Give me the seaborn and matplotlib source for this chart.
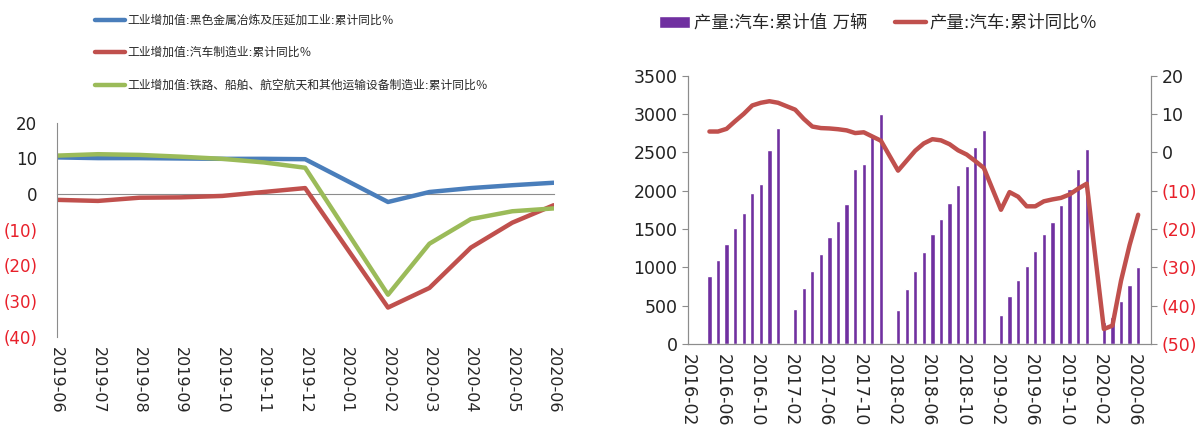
import numpy as np
import pandas as pd
import matplotlib
matplotlib.use("Agg")
import matplotlib.pyplot as plt
import seaborn as sns

# ---- left chart data (工业增加值 累计同比 %) ----
LEFT_MONTHS = ['2019-06', '2019-07', '2019-08', '2019-09', '2019-10', '2019-11',
               '2019-12', '2020-01', '2020-02', '2020-03', '2020-04', '2020-05', '2020-06']
# 2020-01 has no value (None)
steel = [10.3, 10.1, 10.1, 10.0, 9.9, 9.9, 9.8, None, -2.2, 0.6, 1.7, 2.5, 3.2]
auto_mfg = [-1.6, -1.9, -1.0, -0.9, -0.5, 0.6, 1.7, None, -31.8, -26.3, -15.0, -8.0, -3.1]
transport_eq = [10.8, 11.2, 11.0, 10.5, 9.9, 8.9, 7.4, None, -28.2, -13.9, -7.0, -4.8, -4.0]
LEFT_NAMES = ['工业增加值:黑色金属冶炼及压延加工业:累计同比％',
              '工业增加值:汽车制造业:累计同比％',
              '工业增加值:铁路、船舶、航空航天和其他运输设备制造业:累计同比％']

# ---- right chart data (汽车产量) ----
RIGHT_MONTHS = [f'{y}-{m:02d}' for y in range(2016, 2021) for m in range(1, 13)]
RIGHT_MONTHS = RIGHT_MONTHS[RIGHT_MONTHS.index('2016-02'):RIGHT_MONTHS.index('2020-07') + 1]
prod_months = (['2016-%02d' % m for m in range(4, 13)] +
               ['2017-%02d' % m for m in range(2, 13)] +
               ['2018-%02d' % m for m in range(2, 13)] +
               ['2019-%02d' % m for m in range(2, 13)] +
               ['2020-%02d' % m for m in range(2, 7)])
prod_cum = [889, 1094, 1308, 1508, 1709, 1966, 2088, 2524, 2816,
            458, 728, 955, 1173, 1391, 1604, 1822, 2280, 2345, 2707, 2995,
            445, 715, 955, 1199, 1428, 1628, 1833, 2073, 2315, 2574, 2792,
            372, 628, 835, 1011, 1210, 1428, 1589, 1809, 2020, 2278, 2544,
            285, 347, 556, 765, 998]
prod_yoy = [5.4, 5.4, 6.1, 8.1, 10.0, 12.2, 12.9, 13.3, 12.9,
            11.1, 8.7, 6.7, 6.3, 6.2, 6.0, 5.7, 5.0, 5.2, 4.1, 3.0,
            -4.8, -2.2, 0.4, 2.3, 3.4, 3.1, 2.1, 0.5, -0.6, -2.3, -4.1,
            -15.0, -10.4, -11.6, -14.1, -14.1, -12.8, -12.3, -11.9, -11.0, -9.5, -8.2,
            -46.1, -45.2, -33.5, -24.2, -16.3]
RIGHT_TICKS = RIGHT_MONTHS[::4][:14]

BLUE, RED, GREEN = '#4A7EBB', '#C0504D', '#9BBB59'
PURPLE = '#7030A0'
AXIS_GRAY = '#8C8C8C'
NEG_RED = '#E8202A'

sns.set_style('white')
plt.rcParams['font.family'] = ['DejaVu Sans', 'Noto Sans CJK SC']
plt.rcParams['axes.unicode_minus'] = False


def paren_label(v):
    return f'({abs(int(v))})' if v < 0 else f'{int(v)}'


fig = plt.figure(figsize=(11.99, 4.26), dpi=100)

# ================= left chart =================
ax1 = fig.add_axes([0.0472, 0.2094, 0.4146, 0.5023])
left_df = pd.DataFrame({'month': LEFT_MONTHS, 'pos': range(len(LEFT_MONTHS)),
                        LEFT_NAMES[0]: steel, LEFT_NAMES[1]: auto_mfg, LEFT_NAMES[2]: transport_eq})
for name, col in zip(LEFT_NAMES, [BLUE, RED, GREEN]):
    d = left_df.dropna(subset=[name])
    sns.lineplot(data=d, x='pos', y=name, ax=ax1, color=col, linewidth=3.2,
                 label=name, sort=False)

# x axis crosses at 0 (set before tick labels: this resets the ticks)
ax1.spines['bottom'].set_position(('data', 0))
ax1.spines['bottom'].set_color(AXIS_GRAY)
ax1.spines['bottom'].set_zorder(0)
ax1.set_xlim(0, len(LEFT_MONTHS) - 1)
ax1.set_ylim(-40, 20)
ax1.set_xticks(range(len(LEFT_MONTHS)))
ax1.set_xticklabels(LEFT_MONTHS, rotation=-90, fontsize=11.5)
lt = list(range(-40, 21, 10))
ax1.set_yticks(lt)
ax1.set_yticklabels([paren_label(v) for v in lt], fontsize=12)
for lab, v in zip(ax1.get_yticklabels(), lt):
    lab.set_color(NEG_RED if v < 0 else '#222222')
ax1.set_xlabel('')
ax1.set_ylabel('')
for s in ['top', 'right']:
    ax1.spines[s].set_visible(False)
ax1.spines['left'].set_color(AXIS_GRAY)
ax1.tick_params(axis='y', direction='out', length=4, color=AXIS_GRAY, pad=10)
ax1.tick_params(axis='x', direction='out', length=4, color=AXIS_GRAY, pad=106)
ax1.legend(loc='upper left', bbox_to_anchor=(90 / 1199, 1 - 9 / 426),
           bbox_transform=fig.transFigure, frameon=False, fontsize=8.5,
           handlelength=2.6, handletextpad=0.15, labelspacing=1.65, borderaxespad=0)

# ================= right chart =================
ax2 = fig.add_axes([0.5738, 0.1925, 0.3862, 0.6302])
bar_df = pd.DataFrame({'month': prod_months, 'value': prod_cum})
sns.barplot(data=bar_df, x='month', y='value', order=RIGHT_MONTHS, ax=ax2,
            color=PURPLE, saturation=1, width=0.5, label='产量:汽车:累计值 万辆')
ax2.set_xlim(-0.5, len(RIGHT_MONTHS) - 0.5)
ax2.set_ylim(0, 3500)
ax2.set_yticks(range(0, 3501, 500))
ax2.set_yticklabels([str(v) for v in range(0, 3501, 500)], fontsize=12.5, color='#222222')
tick_pos = [RIGHT_MONTHS.index(m) - 0.5 for m in RIGHT_TICKS]
ax2.set_xticks(tick_pos)
ax2.set_xticklabels(RIGHT_TICKS, rotation=-90, fontsize=12.5)
ax2.set_xlabel('')
ax2.set_ylabel('')
ax2.spines['top'].set_visible(False)
for s in ['left', 'right', 'bottom']:
    ax2.spines[s].set_color(AXIS_GRAY)
ax2.tick_params(axis='both', direction='out', length=4, color=AXIS_GRAY)

ax3 = ax2.twinx()
line_df = pd.DataFrame({'pos': [RIGHT_MONTHS.index(m) for m in prod_months], 'yoy': prod_yoy})
sns.lineplot(data=line_df, x='pos', y='yoy', ax=ax3, color=RED, linewidth=3.2,
             sort=False, label='产量:汽车:累计同比％')
ax3.set_ylim(-50, 20)
rt = list(range(-50, 21, 10))
ax3.set_yticks(rt)
ax3.set_yticklabels([paren_label(v) for v in rt], fontsize=12.5)
for lab, v in zip(ax3.get_yticklabels(), rt):
    lab.set_color(NEG_RED if v < 0 else '#222222')
ax3.set_ylabel('')
ax3.set_xlabel('')
ax3.set_xlim(-0.5, len(RIGHT_MONTHS) - 0.5)
ax3.spines['top'].set_visible(False)
for s in ['left', 'right', 'bottom']:
    ax3.spines[s].set_color(AXIS_GRAY)
ax3.tick_params(axis='y', direction='out', length=4, color=AXIS_GRAY)

h1, l1 = ax2.get_legend_handles_labels()
h2, l2 = ax3.get_legend_handles_labels()
if ax2.get_legend():
    ax2.get_legend().remove()
ax3.legend(h1 + h2, l1 + l2, loc='center left', bbox_to_anchor=(652 / 1199, 1 - 23 / 426),
           bbox_transform=fig.transFigure, ncol=2, frameon=False, fontsize=12.5,
           handlelength=1.8, handletextpad=0.2, columnspacing=1.6, borderaxespad=0)

fig.savefig('out.png', dpi=100)
